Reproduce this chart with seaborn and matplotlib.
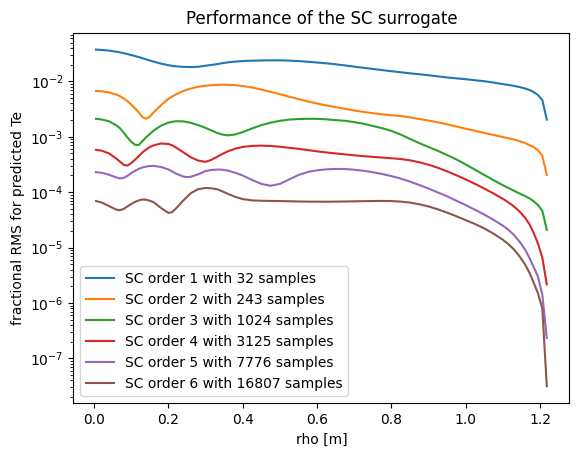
import numpy as np
import pandas as pd
import matplotlib
matplotlib.use("Agg")
import matplotlib.pyplot as plt
import seaborn as sns

# rho grid [m] and log10 of the fractional RMS
rho = [0.005, 0.02, 0.04, 0.06, 0.07, 0.08, 0.09, 0.10, 0.11, 0.12, 0.13, 0.14,
       0.15, 0.16, 0.18, 0.20, 0.21, 0.22, 0.24, 0.25, 0.26, 0.28,
       0.30, 0.315, 0.33, 0.345, 0.36, 0.38, 0.40, 0.425, 0.45, 0.475,
       0.50, 0.525, 0.55, 0.575, 0.60, 0.625, 0.65, 0.675, 0.70, 0.725,
       0.75, 0.775, 0.80, 0.825, 0.85, 0.875, 0.90, 0.925, 0.95, 0.975,
       1.00, 1.025, 1.05, 1.075,
       1.10, 1.115, 1.13, 1.145, 1.16, 1.171, 1.182, 1.194, 1.206, 1.218]

log_order1 = [-1.427, -1.433, -1.445, -1.466, -1.478, -1.493, -1.508, -1.525, -1.543, -1.562, -1.582,
              -1.603, -1.623, -1.643, -1.680, -1.708, -1.720, -1.729, -1.739, -1.741, -1.742, -1.737,
              -1.718, -1.704, -1.690, -1.672, -1.657, -1.643, -1.634, -1.627, -1.623, -1.621,
              -1.621, -1.626, -1.634, -1.646, -1.660, -1.675, -1.692, -1.713, -1.735, -1.756,
              -1.776, -1.797, -1.817, -1.836, -1.855, -1.872, -1.890, -1.910, -1.930, -1.946,
              -1.962, -1.980, -1.998, -2.022,
              -2.050, -2.065, -2.082, -2.103, -2.130, -2.155, -2.190, -2.245, -2.337, -2.690]
log_order2 = [-2.175, -2.180, -2.200, -2.240, -2.268, -2.310, -2.360, -2.420, -2.486, -2.560, -2.645,
              -2.675, -2.635, -2.560, -2.430, -2.316, -2.275, -2.237, -2.175, -2.150, -2.130, -2.098,
              -2.078, -2.070, -2.064, -2.061, -2.062, -2.070, -2.085, -2.110, -2.148, -2.190,
              -2.232, -2.277, -2.320, -2.362, -2.400, -2.434, -2.464, -2.496, -2.525, -2.552,
              -2.575, -2.595, -2.612, -2.625, -2.650, -2.680, -2.708, -2.740, -2.775, -2.815,
              -2.855, -2.893, -2.932, -2.968,
              -3.005, -3.027, -3.050, -3.080, -3.115, -3.150, -3.185, -3.240, -3.344, -3.690]
log_order3 = [-2.676, -2.688, -2.720, -2.795, -2.848, -2.930, -3.015, -3.090, -3.145, -3.150, -3.080,
              -3.010, -2.950, -2.890, -2.800, -2.745, -2.730, -2.720, -2.722, -2.735, -2.748, -2.790,
              -2.840, -2.885, -2.928, -2.960, -2.975, -2.958, -2.915, -2.850, -2.790, -2.745,
              -2.712, -2.690, -2.680, -2.676, -2.677, -2.686, -2.700, -2.712, -2.735, -2.765,
              -2.805, -2.845, -2.895, -2.960, -3.040, -3.115, -3.185, -3.255, -3.330, -3.410,
              -3.500, -3.595, -3.690, -3.785,
              -3.875, -3.925, -3.975, -4.025, -4.070, -4.110, -4.160, -4.230, -4.335, -4.680]
log_order4 = [-3.236, -3.250, -3.300, -3.395, -3.450, -3.510, -3.518, -3.475, -3.415, -3.350, -3.283,
              -3.230, -3.185, -3.155, -3.122, -3.130, -3.155, -3.193, -3.280, -3.325, -3.370, -3.430,
              -3.452, -3.418, -3.365, -3.310, -3.262, -3.215, -3.183, -3.165, -3.160, -3.166,
              -3.180, -3.199, -3.218, -3.240, -3.263, -3.283, -3.301, -3.318, -3.335, -3.350,
              -3.363, -3.375, -3.388, -3.402, -3.425, -3.460, -3.505, -3.560, -3.625, -3.695,
              -3.770, -3.850, -3.935, -4.025,
              -4.120, -4.185, -4.260, -4.350, -4.465, -4.575, -4.725, -4.920, -5.180, -5.664]
log_order5 = [-3.640, -3.650, -3.685, -3.735, -3.752, -3.740, -3.705, -3.655, -3.615, -3.580, -3.555,
              -3.538, -3.528, -3.525, -3.545, -3.590, -3.625, -3.663, -3.718, -3.728, -3.722, -3.678,
              -3.618, -3.600, -3.592, -3.594, -3.610, -3.650, -3.700, -3.780, -3.850, -3.885,
              -3.850, -3.770, -3.690, -3.635, -3.605, -3.588, -3.580, -3.582, -3.595, -3.614,
              -3.640, -3.672, -3.710, -3.755, -3.810, -3.870, -3.935, -4.005, -4.075, -4.155,
              -4.235, -4.318, -4.405, -4.500,
              -4.605, -4.680, -4.775, -4.895, -5.040, -5.180, -5.340, -5.520, -5.850, -6.630]
log_order6 = [-4.160, -4.185, -4.250, -4.315, -4.325, -4.300, -4.255, -4.213, -4.175, -4.148, -4.133,
              -4.135, -4.155, -4.180, -4.285, -4.375, -4.360, -4.296, -4.150, -4.085, -4.020, -3.945,
              -3.924, -3.930, -3.945, -3.985, -4.030, -4.085, -4.125, -4.148, -4.155, -4.158,
              -4.160, -4.164, -4.168, -4.170, -4.172, -4.172, -4.170, -4.168, -4.165, -4.162,
              -4.160, -4.158, -4.160, -4.170, -4.188, -4.218, -4.258, -4.310, -4.370, -4.435,
              -4.505, -4.575, -4.655, -4.750,
              -4.860, -4.940, -5.035, -5.160, -5.310, -5.450, -5.620, -5.820, -6.100, -7.503]

orders = [1, 2, 3, 4, 5, 6]
n_samples = [32, 243, 1024, 3125, 7776, 16807]
series = [log_order1, log_order2, log_order3, log_order4, log_order5, log_order6]
colors = sns.color_palette("tab10", 6)

fig, ax = plt.subplots(figsize=(5.78, 4.55), dpi=100)

for order, n, logv, col in zip(orders, n_samples, series, colors):
    df = pd.DataFrame({"rho": rho, "rms": 10 ** np.array(logv)})
    sns.lineplot(data=df, x="rho", y="rms", color=col, linewidth=1.5, ax=ax,
                 label=f"SC order {order} with {n} samples")

ax.set_yscale("log")
ax.set_title("Performance of the SC surrogate")
ax.set_xlabel("rho [m]")
ax.set_ylabel("fractional RMS for predicted Te")
ax.legend(loc="lower left")

fig.subplots_adjust(left=0.127, right=0.985, top=0.928, bottom=0.114)
fig.savefig("out.png", dpi=100)
